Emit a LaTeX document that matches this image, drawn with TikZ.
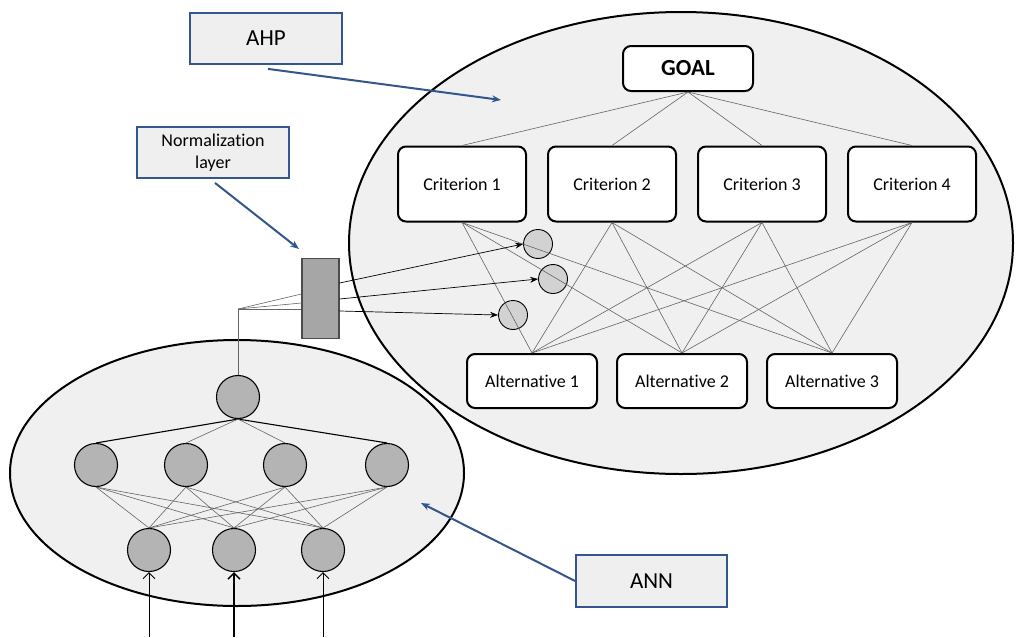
\documentclass[tikz,border=0pt]{standalone}
\usepackage{fontspec}
\setmainfont{Carlito}[Ligatures=NoCommon]
\usetikzlibrary{arrows.meta}

\definecolor{bubble}{RGB}{240,240,240}
\definecolor{neurongray}{RGB}{180,180,180}
\definecolor{smallgray}{RGB}{210,210,210}
\definecolor{normgray}{RGB}{166,166,166}
\definecolor{tagblue}{RGB}{52,86,140}
\definecolor{tagfill}{RGB}{239,239,239}
\definecolor{wire}{RGB}{100,100,100}

\begin{document}
\begin{tikzpicture}[x=1pt, y=-1pt,
    crit/.style={draw, line width=2pt, rounded corners=8pt, fill=white,
        minimum width=128pt, minimum height=75pt, inner sep=0pt,
        font=\fontsize{18}{21}\selectfont},
    altbox/.style={crit, minimum width=130pt, minimum height=54pt},
    goalbox/.style={crit, minimum width=130pt, minimum height=45pt,
        font=\fontsize{23}{26}\selectfont\bfseries},
    tag/.style={draw=tagblue, line width=1.8pt, fill=tagfill, inner sep=0pt,
        minimum width=152pt, minimum height=51pt, align=center,
        font=\fontsize{23}{26}\selectfont},
    neuron/.style={circle, draw, line width=1.1pt, fill=neurongray,
        minimum size=43pt, inner sep=0pt},
    weight/.style={circle, draw, line width=0.9pt, fill=smallgray,
        minimum size=29pt, inner sep=0pt},
    link/.style={wire, line width=0.6pt},
    tagarrow/.style={tagblue, line width=2pt, -{Stealth[length=9pt, width=7pt]}},
    feed/.style={black, line width=0.7pt, -{Stealth[length=8pt, width=6pt]}}
  ]
  \useasboundingbox (0,0) rectangle (1016,637);

  % the two groups
  \filldraw[fill=bubble, line width=2pt] (681,243) ellipse (332 and 231);
  \filldraw[fill=bubble, line width=2pt] (237,473) ellipse (227 and 133);

  % AHP hierarchy
  \node[goalbox] (goal) at (688,68.5) {GOAL};
  \node[crit] (c1) at (462,184) {Criterion 1};
  \node[crit] (c2) at (612,184) {Criterion 2};
  \node[crit] (c3) at (762,184) {Criterion 3};
  \node[crit] (c4) at (912,184) {Criterion 4};
  \node[altbox] (a1) at (532,381) {Alternative 1};
  \node[altbox] (a2) at (682,381) {Alternative 2};
  \node[altbox] (a3) at (832,381) {Alternative 3};

  % weights coming from the network
  \node[weight] (w1) at (538,244) {};
  \node[weight] (w2) at (553,279) {};
  \node[weight] (w3) at (513,315) {};

  \foreach \c in {c1,c2,c3,c4}{
    \draw[link] (goal.south) -- (\c.north);
    \foreach \a in {a1,a2,a3}
      \draw[link] (\c.south) -- (\a.north);
  }

  % normalization layer
  \node[draw=black!70, line width=1.2pt, fill=normgray, minimum width=37pt,
        minimum height=80pt, inner sep=0pt] (norm) at (320.5,298.5) {};
  \draw[feed] ([yshift=15.5pt]norm.east) -- (w1.west);
  \draw[feed] ([yshift=-0.5pt]norm.east) -- (w2.west);
  \draw[feed] ([yshift=-12.5pt]norm.east) -- (w3.west);

  % ANN
  \node[neuron] (o) at (238,397) {};
  \node[neuron] (h1) at (96,465) {};
  \node[neuron] (h2) at (186,465) {};
  \node[neuron] (h3) at (285,465) {};
  \node[neuron] (h4) at (387,465) {};
  \node[neuron] (i1) at (149,550) {};
  \node[neuron] (i2) at (234,550) {};
  \node[neuron] (i3) at (323,550) {};

  \draw[line width=1.1pt] (o.south) -- (h1.north);
  \draw[line width=1.1pt] (o.south) -- (h4.north);
  \draw[link] (o.south) -- (h2.north);
  \draw[link] (o.south) -- (h3.north);
  \foreach \h in {h1,h2,h3,h4}
    \foreach \i in {i1,i2,i3}
      \draw[link] (\h.south) -- (\i.north);

  \coordinate (split) at (238,309);
  \draw[link] (o.north) -- (split);
  \draw[link] (split) -- ([yshift=4.5pt]norm.west);
  \draw[link] (split) -- ([yshift=-4.5pt]norm.west);
  \draw[link] (split) -- ([yshift=-10.5pt]norm.west);

  \coordinate (x1) at (149,637);
  \coordinate (x2) at (234,637);
  \coordinate (x3) at (323,637);
  \draw[line width=0.9pt, -{Straight Barb[length=6pt]}] (x1) -- (i1.south);
  \draw[line width=1.5pt, -{Straight Barb[length=6pt]}] (x2) -- (i2.south);
  \draw[line width=0.9pt, -{Straight Barb[length=6pt]}] (x3) -- (i3.south);

  % labels
  \node[tag] (ahp) at (266,38.5) {AHP};
  \node[tag, font=\fontsize{18}{22}\selectfont] (normtag) at (213,152.5) {Normalization\\layer};
  \node[tag, minimum width=151pt, minimum height=52pt] (ann) at (651.5,581) {ANN};

  \coordinate (ahptip) at (501,100);
  \coordinate (normtip) at (299,249);
  \coordinate (anntip) at (421,503);
  \draw[tagarrow] ([yshift=-4pt, xshift=2pt]ahp.south) -- (ahptip);
  \draw[tagarrow] ([yshift=-4pt, xshift=2pt]normtag.south) -- (normtip);
  \draw[tagarrow] (ann.west) -- (anntip);
\end{tikzpicture}
\end{document}
